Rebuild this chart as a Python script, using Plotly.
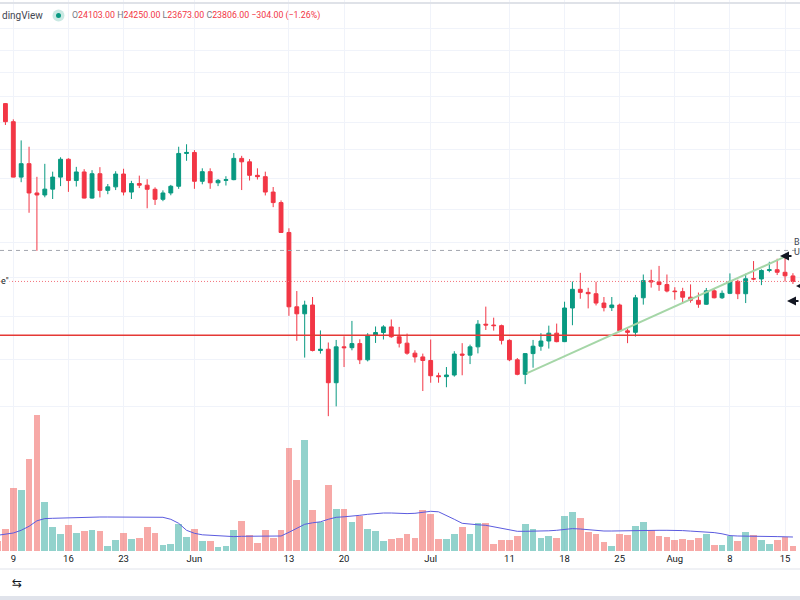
import math
import pandas as pd
import plotly.graph_objects as go

# ---------------- data ----------------
dates = pd.date_range("2022-05-07", "2022-08-16", freq="D")

opens = [35990, 35470, 34060, 30080, 31000, 29030, 28900, 29280, 30080, 31310,
         29850, 30430, 28700, 30310, 29200, 29430, 30290, 29090, 29650, 29540,
         29270, 28620, 29030, 29470, 31720, 31790, 29800, 30450, 29700, 29860,
         29910, 31370, 31130, 30200, 30110, 29090, 28410, 26570, 22490, 22140,
         22580, 20390, 20450, 18970, 20560, 20520, 20710, 19970, 21100, 21230,
         21500, 21030, 20730, 20270, 20100, 19940, 19270, 19230, 19300, 20230,
         20180, 20560, 21630, 21590, 21560, 20860, 19970, 19330, 20250, 20590,
         20830, 21200, 20800, 22430, 23390, 23230, 23160, 22680, 22450, 22580,
         21310, 21240, 22950, 23850, 23780, 23640, 23300, 23270, 22980, 22820,
         22620, 23310, 22950, 23180, 23810, 23160, 23950, 23940, 24400, 24440,
         24300, 24103]
highs = [36140, 35510, 34240, 32660, 32200, 30100, 30990, 30450, 31450, 31380,
         30780, 30620, 30550, 30760, 29620, 30480, 30650, 29830, 30180, 29940,
         29400, 29200, 29560, 32200, 32380, 31960, 30680, 30680, 29950, 30140,
         31750, 31550, 31320, 30680, 30450, 29420, 28550, 26820, 23300, 22800,
         22990, 21330, 20760, 20880, 21050, 21790, 20910, 21200, 21520, 21580,
         21860, 21500, 21180, 20400, 20250, 20900, 19400, 19650, 20360, 20730,
         20660, 21830, 22500, 21950, 21610, 20910, 20050, 20250, 20880, 21200,
         21560, 21660, 22750, 23800, 24270, 23470, 23790, 22990, 22990, 22650,
         21420, 23100, 24180, 24440, 24650, 24180, 23500, 23470, 23650, 23220,
         23460, 23400, 23330, 24240, 23900, 24220, 24920, 24460, 24880, 25050,
         25200, 24250]
lows = [34780, 33810, 30070, 29740, 27770, 25500, 28750, 28640, 29480, 29100,
        29450, 28680, 28660, 28740, 28950, 29220, 28870, 28640, 29350, 28050,
        28260, 28500, 28880, 29300, 31200, 29300, 29600, 29300, 29480, 29520,
        29870, 29220, 29850, 29920, 28870, 28120, 26560, 22040, 20840, 20070,
        20350, 20250, 17600, 17990, 19650, 20400, 19780, 19900, 20740, 20900,
        20980, 20530, 20200, 19850, 18620, 18970, 18970, 18780, 19230, 19290,
        19780, 20260, 21350, 21320, 20670, 19910, 19290, 18910, 19620, 20380,
        20480, 20770, 20780, 21580, 22900, 22410, 22560, 22260, 22280, 21260,
        20730, 21040, 22600, 23480, 23310, 23230, 22850, 22670, 22700, 22440,
        22590, 22920, 22890, 23140, 22880, 22680, 23870, 23610, 24300, 24150,
        23800, 23673]
closes = [35470, 34060, 30080, 31000, 29030, 28900, 29280, 30080, 31310, 29850,
          30430, 28700, 30310, 29200, 29430, 30290, 29090, 29650, 29540, 29270,
          28620, 29030, 29470, 31720, 31790, 29800, 30450, 29700, 29860, 29910,
          31370, 31130, 30200, 30110, 29090, 28410, 26570, 22490, 22140, 22580,
          20390, 20450, 18970, 20560, 20520, 20710, 19970, 21100, 21230, 21500,
          21030, 20730, 20270, 20100, 19940, 19270, 19230, 19300, 20230, 20180,
          20560, 21630, 21590, 21560, 20860, 19970, 19330, 20250, 20590, 20830,
          21200, 20800, 22430, 23390, 23230, 23160, 22680, 22450, 22580, 21310,
          21240, 22950, 23850, 23780, 23640, 23300, 23270, 22980, 22820, 22620,
          23310, 22950, 23180, 23810, 23160, 23950, 23940, 24400, 24440, 24300,
          24110, 23806]
volumes = [2000, 4480, 12600, 12280, 18340, 27140, 9880, 4800, 3480, 5280,
           3680, 3940, 4140, 3940, 940, 2140, 3680, 2480, 2600, 4740,
           3540, 1280, 1480, 5340, 2740, 4480, 2000, 1940, 800, 1000,
           4140, 6000, 3140, 1600, 4280, 2680, 4280, 20680, 14140, 22140,
           8140, 5800, 13140, 8340, 8340, 5800, 6940, 4480, 4000, 2000,
           2480, 2680, 3340, 2680, 8140, 7340, 2480, 2480, 3340, 4800,
           3480, 5600, 5600, 1480, 2280, 2280, 2940, 5340, 4340, 2680,
           2940, 2600, 7080, 7740, 6680, 3800, 3340, 1800, 1080, 3480,
           3280, 4940, 5740, 4140, 2940, 2740, 2140, 2400, 2140, 2600,
           3400, 1140, 1280, 3080, 2000, 3740, 3140, 2140, 1480, 2280,
           2800, 1000]
vol_ma = [3140, 3340, 3600, 4140, 4940, 6040, 6480, 6540, 6600, 6640,
          6680, 6740, 6740, 6800, 6800, 6800, 6800, 6740, 6740, 6740,
          6800, 6740, 6340, 5540, 4140, 3540, 3240, 3140, 3000, 2880,
          2880, 2940, 2940, 2880, 2940, 2940, 3000, 3740, 4540, 5340,
          5640, 5840, 6340, 6740, 6840, 6940, 7140, 7340, 7540, 7600,
          7600, 7480, 7480, 7540, 7740, 7940, 7840, 7140, 6340, 5540,
          5340, 5240, 5140, 4840, 4440, 4140, 3940, 3940, 3940, 4000,
          4040, 4140, 4240, 4480, 4400, 4240, 4080, 4000, 4000, 4040,
          4080, 4140, 4140, 4140, 4140, 4140, 4140, 4080, 3980, 3880,
          3800, 3680, 3440, 3080, 3000, 3000, 3000, 2940, 2940, 2880,
          2840, 2800]

tick_dates = ["2022-05-09", "2022-05-16", "2022-05-23", "2022-06-01", "2022-06-13",
              "2022-06-20", "2022-07-01", "2022-07-11", "2022-07-18", "2022-07-25",
              "2022-08-01", "2022-08-08", "2022-08-15"]
tick_text = ["9", "16", "23", "Jun", "13", "20", "Jul", "11", "18", "25", "Aug", "8", "15"]

price_grid = [18000, 20000, 22000, 24000, 26000, 28000, 30000, 32000, 34000,
              36000, 38000, 40000, 42000]

level_dashed = 25520      # grey dashed level
level_support = 21100     # red horizontal line
trend_x = ["2022-07-13 04:30", "2022-08-15 00:00"]
trend_y = [19375, 25165]

prev_close = closes[-2]
last_o, last_h, last_l, last_c = opens[-1], highs[-1], lows[-1], closes[-1]

# ---------------- styling ----------------
UP = "#089981"
DN = "#f23645"
VUP = "rgba(38,166,154,0.5)"
VDN = "rgba(239,83,80,0.5)"
GRID = "#f0f3fa"
FONT = "Roboto"

PW, PH = 800, 551


def px(x):
    return x / PW


def py(y):
    return (PH - y) / PH


start = pd.Timestamp("2022-05-09") - pd.Timedelta(days=13.3 / 7.875)
end = start + pd.Timedelta(days=PW / 7.875)

vol_colors = [VUP if c >= o else VDN for o, c in zip(opens, closes)]

fig = go.Figure()

fig.add_trace(go.Bar(x=dates, y=volumes, marker=dict(color=vol_colors, line=dict(width=0)),
                     width=0.86 * 86400000, yaxis="y", hoverinfo="skip"))
fig.add_trace(go.Scatter(x=dates, y=vol_ma, mode="lines", line=dict(color="#5b5bdf", width=1),
                         yaxis="y", hoverinfo="skip"))

# level lines
fig.add_trace(go.Scatter(x=[start, end], y=[level_dashed, level_dashed], mode="lines",
                         line=dict(color="#a3a6af", width=1, dash="4px,4px"), yaxis="y2"))
fig.add_trace(go.Scatter(x=[start, end], y=[last_c, last_c], mode="lines",
                         line=dict(color="#f4727c", width=1, dash="1px,2px"), yaxis="y2"))
fig.add_trace(go.Scatter(x=[start, end], y=[level_support, level_support], mode="lines",
                         line=dict(color="#e53935", width=1.6), yaxis="y2"))
fig.add_trace(go.Scatter(x=trend_x, y=trend_y, mode="lines",
                         line=dict(color="#a5d6a7", width=2), yaxis="y2"))

fig.add_trace(go.Candlestick(
    x=dates, open=opens, high=highs, low=lows, close=closes, yaxis="y2",
    increasing=dict(line=dict(color=UP, width=1), fillcolor=UP),
    decreasing=dict(line=dict(color=DN, width=1), fillcolor=DN),
    whiskerwidth=0, hoverinfo="skip"))

chg = last_c - prev_close
pct = chg / prev_close * 100
lab = "#787b86"


def fmt(v):
    s = f"{abs(v):.2f}"
    return ("\u2212" + s) if v < 0 else s


HS = 8.8


def seg(color, txt):
    return f"<span style='color:{color};font-size:{HS}px'>{txt}</span>"


header = (seg(lab, "O") + seg(DN, f"{last_o:.2f} ") +
          seg(lab, "H") + seg(DN, f"{last_h:.2f} ") +
          seg(lab, "L") + seg(DN, f"{last_l:.2f} ") +
          seg(lab, "C") + seg(DN, f"{last_c:.2f} ") +
          seg(DN, f"{fmt(chg)} ({fmt(pct)}%)"))

annotations = [
    dict(x=px(0), y=py(15.5), xref="paper", yref="paper", text="dingView", showarrow=False,
         xanchor="left", yanchor="middle", font=dict(family=FONT, size=10, color="#434651")),
    dict(x=px(70), y=py(15.5), xref="paper", yref="paper", text=header, showarrow=False,
         xanchor="left", yanchor="middle", font=dict(family=FONT, size=HS, color=DN)),
    dict(x=px(10), y=py(281), xref="paper", yref="paper", text='e"', showarrow=False,
         xanchor="right", yanchor="middle", bgcolor="white", borderpad=0,
         font=dict(family=FONT, size=9, color="#131722")),
    dict(x=px(792), y=py(242), xref="paper", yref="paper", text="B", showarrow=False,
         xanchor="left", yanchor="middle", font=dict(family=FONT, size=9, color="#434651")),
    dict(x=px(792), y=py(251.5), xref="paper", yref="paper", text="U", showarrow=False,
         xanchor="left", yanchor="middle", font=dict(family=FONT, size=9, color="#434651")),
    dict(x=px(17), y=py(583), xref="paper", yref="paper", text="\u21c6", showarrow=False,
         xanchor="center", yanchor="middle", font=dict(family="DejaVu Sans", size=12, color="#131722")),
]
for (tx, ty, ln) in [(780, 256, 13), (787, 301, 14), (796, 286, 8)]:
    annotations.append(dict(x=px(tx), y=py(ty), xref="paper", yref="paper", ax=ln, ay=0,
                            text="", showarrow=True,
                            arrowhead=2, arrowsize=0.9, arrowwidth=2, arrowcolor="#131722"))

shapes = [
    dict(type="line", xref="paper", yref="paper", x0=0, x1=1, y0=py(3), y1=py(3),
         line=dict(color="#dfe2e8", width=2)),
    dict(type="line", xref="paper", yref="paper", x0=0, x1=1, y0=py(569), y1=py(569),
         line=dict(color="#e0e3eb", width=1)),
    dict(type="rect", xref="paper", yref="paper", x0=0, x1=1, y0=py(600), y1=py(596),
         fillcolor="#e0e3eb", line=dict(width=0)),
    dict(type="circle", xref="paper", yref="paper", x0=px(52.5), x1=px(64.5), y0=py(21.5), y1=py(9.5),
         fillcolor="rgba(8,153,129,0.22)", line=dict(width=0)),
    dict(type="circle", xref="paper", yref="paper", x0=px(56), x1=px(61), y0=py(18), y1=py(13),
         fillcolor=UP, line=dict(width=0)),
]

lo_log = math.log10(math.exp((4776.1 - PH) / 446))
hi_log = math.log10(math.exp(4776.1 / 446))

fig.update_layout(
    width=800, height=600,
    margin=dict(l=0, r=0, t=0, b=600 - PH),
    paper_bgcolor="white", plot_bgcolor="white",
    showlegend=False,
    bargap=0,
    xaxis=dict(type="date", range=[start, end], tickvals=tick_dates, ticktext=tick_text,
               showgrid=True, gridcolor=GRID, gridwidth=1, zeroline=False, showline=False,
               ticks="", tickfont=dict(family=FONT, size=9.5, color="#131722"),
               rangeslider=dict(visible=False), fixedrange=True),
    yaxis=dict(range=[0, 200 * PH], visible=False, showgrid=False, fixedrange=True),
    yaxis2=dict(type="log", overlaying="y", side="right", range=[lo_log, hi_log],
                tickvals=price_grid, showticklabels=False, showgrid=True, gridcolor=GRID,
                zeroline=False, showline=False, fixedrange=True),
    annotations=annotations,
    shapes=shapes,
)

fig.write_html("out.html")
